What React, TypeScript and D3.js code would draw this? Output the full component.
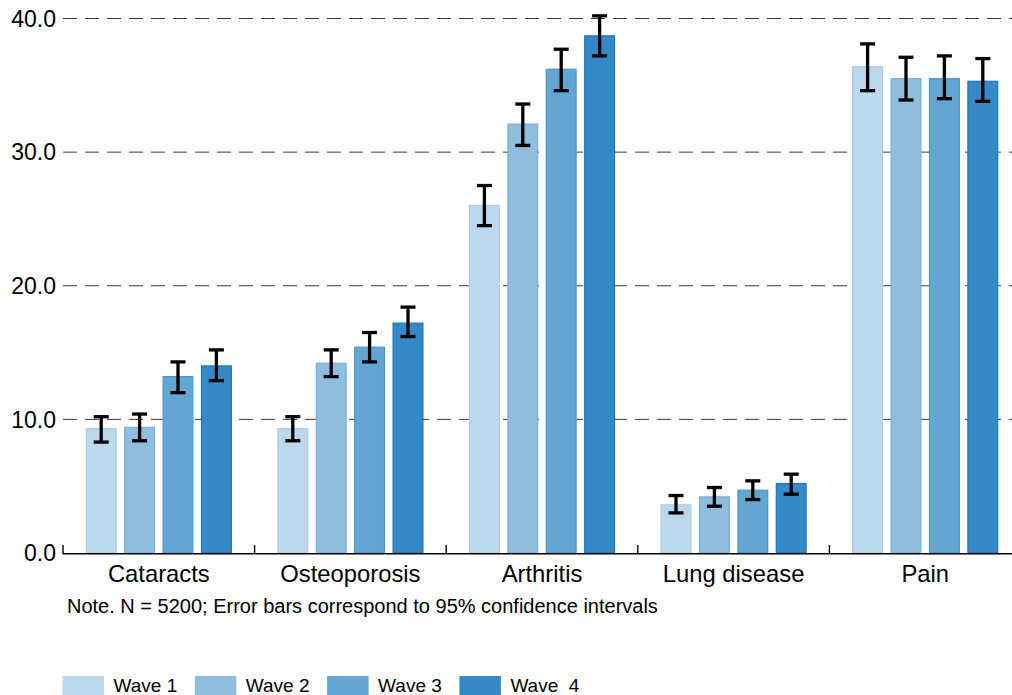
import React from "react";
import * as d3 from "d3";

const categories = ["Cataracts", "Osteoporosis", "Arthritis", "Lung disease", "Pain"];
const waves = ["Wave 1", "Wave 2", "Wave 3", "Wave  4"];

const wave1 = [9.3, 9.3, 26.0, 3.6, 36.4];
const wave1Lo = [8.3, 8.4, 24.5, 3.0, 34.6];
const wave1Hi = [10.2, 10.2, 27.5, 4.3, 38.1];

const wave2 = [9.4, 14.2, 32.1, 4.2, 35.5];
const wave2Lo = [8.4, 13.2, 30.5, 3.5, 33.9];
const wave2Hi = [10.4, 15.2, 33.6, 4.9, 37.1];

const wave3 = [13.2, 15.4, 36.2, 4.7, 35.5];
const wave3Lo = [12.0, 14.3, 34.6, 4.0, 34.0];
const wave3Hi = [14.3, 16.5, 37.7, 5.4, 37.2];

const wave4 = [14.0, 17.2, 38.7, 5.2, 35.3];
const wave4Lo = [12.9, 16.2, 37.2, 4.4, 33.8];
const wave4Hi = [15.2, 18.4, 40.2, 5.9, 37.0];

const yTicks = [0, 10, 20, 30, 40];
const note = "Note. N = 5200; Error bars correspond to 95% confidence intervals";

const fills = ["#bcd8eb", "#8fbddd", "#62a6d1", "#3589c6"];
const strokes = ["#a6cbe6", "#79b0d8", "#4c97ca", "#1c76b8"];

const series = [
  { v: wave1, lo: wave1Lo, hi: wave1Hi },
  { v: wave2, lo: wave2Lo, hi: wave2Hi },
  { v: wave3, lo: wave3Lo, hi: wave3Hi },
  { v: wave4, lo: wave4Lo, hi: wave4Hi },
];

const FONT = "'Liberation Sans', Arial, Helvetica, sans-serif";

export default function App() {
  const W = 1012, H = 695;
  const x0 = 63;
  const band = 191.6;
  const x = d3.scaleBand<string>().domain(categories).range([x0, x0 + band * categories.length]).padding(0);
  const groupW = 146.2;
  const x1 = d3
    .scaleBand<string>()
    .domain(waves)
    .range([(band - groupW) / 2, (band + groupW) / 2])
    .paddingInner(0.193)
    .paddingOuter(0);
  const y = d3.scaleLinear().domain([0, 40]).range([553, 18.5]);
  const boundaries = categories.map((c) => x(c) as number).concat([x0 + band * categories.length]);
  const capW = 15;

  return (
    <svg width={W} height={H} style={{ position: "absolute", left: 0, top: 0, background: "#fff" }}>
      <rect x={0} y={0} width={W} height={H} fill="#fff" />
      {yTicks
        .filter((t) => t > 0)
        .map((t) => (
          <line key={"g" + t} x1={x0} x2={W} y1={y(t)} y2={y(t)} stroke="#3a3a3a" strokeWidth={1} strokeDasharray="14,8" />
        ))}
      {yTicks.map((t) => (
        <text key={"yt" + t} x={56} y={y(t) + 8.3} textAnchor="end" fontFamily={FONT} fontSize={23} fill="#000">
          {t.toFixed(1)}
        </text>
      ))}
      {categories.map((c, ci) =>
        series.map((s, si) => {
          const bx = (x(c) as number) + (x1(waves[si]) as number);
          const bw = x1.bandwidth();
          return (
            <rect
              key={c + si}
              x={bx + 0.6}
              y={y(s.v[ci])}
              width={bw - 1.2}
              height={y(0) - y(s.v[ci])}
              fill={fills[si]}
              stroke={strokes[si]}
              strokeWidth={1.2}
            />
          );
        })
      )}
      {categories.map((c, ci) =>
        series.map((s, si) => {
          const cx = (x(c) as number) + (x1(waves[si]) as number) + x1.bandwidth() / 2;
          return (
            <g key={"e" + c + si} stroke="#000" strokeWidth={3.3}>
              <line x1={cx} x2={cx} y1={y(s.lo[ci])} y2={y(s.hi[ci])} />
              <line x1={cx - capW / 2} x2={cx + capW / 2} y1={y(s.lo[ci])} y2={y(s.lo[ci])} />
              <line x1={cx - capW / 2} x2={cx + capW / 2} y1={y(s.hi[ci])} y2={y(s.hi[ci])} />
            </g>
          );
        })
      )}
      <line x1={x0} x2={W} y1={553.8} y2={553.8} stroke="#000" strokeWidth={1.6} />
      {boundaries.map((b, i) => (
        <line key={"tk" + i} x1={b} x2={b} y1={545} y2={554} stroke="#000" strokeWidth={1.4} />
      ))}
      {categories.map((c) => (
        <text
          key={"cl" + c}
          x={(x(c) as number) + band / 2}
          y={582}
          textAnchor="middle"
          fontFamily={FONT}
          fontSize={23.8}
          fill="#000"
        >
          {c}
        </text>
      ))}
      <text x={67} y={612.5} fontFamily={FONT} fontSize={20} fill="#000">
        {note}
      </text>
      {waves.map((w, i) => {
        const lx = 62.5 + i * 132.3;
        return (
          <g key={"lg" + i}>
            <rect x={lx} y={676} width={41.5} height={22} fill={fills[i]} />
            <text x={lx + 51} y={692} fontFamily={FONT} fontSize={19} fill="#000" style={{ whiteSpace: "pre" }}>
              {w}
            </text>
          </g>
        );
      })}
    </svg>
  );
}
